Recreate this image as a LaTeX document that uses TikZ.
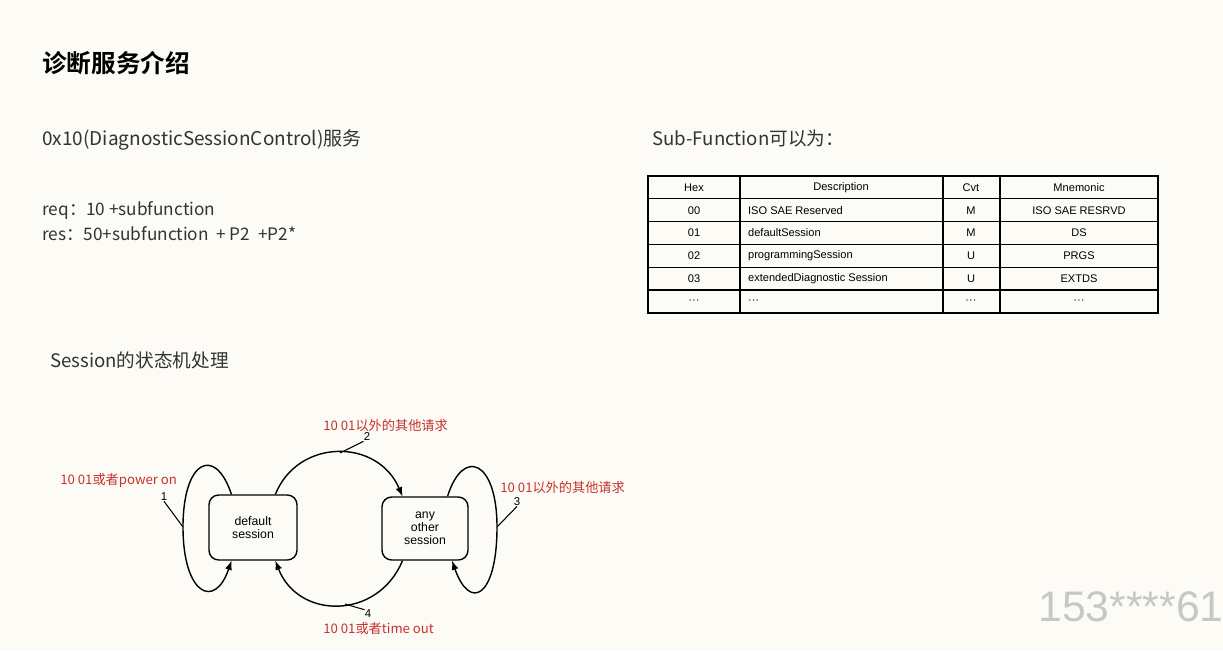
\documentclass[tikz,border=0pt]{standalone}
\usepackage{fontspec}
\setmainfont{Noto Sans CJK SC}[BoldFont={Noto Sans CJK SC Bold}]
\newfontfamily\arial{Liberation Sans}
\definecolor{paper}{HTML}{FCFBF6}
\definecolor{ink}{HTML}{333333}
\definecolor{condred}{HTML}{C8322D}
\tikzset{
  title/.style={anchor=west, inner sep=0pt, text=black, font=\bfseries\fontsize{14}{16}\selectfont},
  body/.style={anchor=west, inner sep=0pt, text=ink, font=\fontsize{9.8}{11}\selectfont},
  cell/.style={inner sep=1pt, text=black, font=\arial\fontsize{6.3}{7}\selectfont},
  state/.style={draw, line width=0.8pt, rounded corners=5.5pt, minimum width=1.76cm, minimum height=1.3cm, inner sep=0pt, align=center, font=\arial\fontsize{7}{7.5}\selectfont},
  cond/.style={anchor=west, inner sep=0pt, text=condred, font=\fontsize{7.5}{8}\selectfont},
  num/.style={inner sep=0pt, font=\arial\fontsize{6.5}{7}\selectfont},
  trans/.style={line width=0.8pt, -latex},
  lead/.style={line width=0.6pt}
}
\begin{document}
\begin{tikzpicture}[x=0.02cm, y=-0.02cm]
\fill[paper] (0,0) rectangle (1223,650); % background
\useasboundingbox (0,0) rectangle (1223,650);
% texts
\node[title] (ttl) at (42,63) {诊断服务介绍};
\node[body, font=\fontsize{10.8}{12}\selectfont] (svc) at (42,140) {0x10(DiagnosticSessionControl)服务};
\node[body] (req) at (42,210) {req：10 +subfunction};
\node[body] (res) at (42,234) {res：50+subfunction\ \ + P2\ \ +P2*};
\node[body, font=\fontsize{10.6}{12}\selectfont] (fsm) at (50,360) {Session的状态机处理};
\node[body, font=\fontsize{10.6}{12}\selectfont] (sub) at (652,138) {Sub-Function可以为：};
% table
\draw[line width=1.1pt] (648,176) rectangle (1158,313); % frame
\foreach \y in {198.8,221.6,244.4,267.2,290} \draw[line width=0.6pt] (648,\y) -- (1158,\y); % rows
\foreach \x in {740,943,1000} \draw[line width=0.6pt] (\x,176) -- (\x,313); % columns
\node[cell] (hhex) at (694,187.4) {Hex};
\node[cell] (hdsc) at (841,187.4) {Description};
\node[cell] (hcvt) at (971,187.4) {Cvt};
\node[cell] (hmn) at (1079,187.4) {Mnemonic};
\foreach \hx/\dsc/\cv/\mn [count=\i] in {00/ISO SAE Reserved/M/ISO SAE RESRVD, 01/defaultSession/M/DS, 02/programmingSession/U/PRGS, 03/extendedDiagnostic Session/U/EXTDS, ···/···/···/···}{
  \node[cell] (hex\i) at (694,{187.4+22.8*\i}) {\hx};
  \node[cell, anchor=west] (dsc\i) at (746,{187.4+22.8*\i}) {\dsc};
  \node[cell] (cvt\i) at (971,{187.4+22.8*\i}) {\cv};
  \node[cell] (mn\i) at (1079,{187.4+22.8*\i}) {\mn};
}
% state machine
\node[state] (ds) at (253,527.5) {default\\session};
\node[state, minimum width=1.72cm, minimum height=1.26cm] (os) at (425,528.5) {any\\other\\session};
\draw[trans] (ds.123) .. controls (215,445) and (183,460) .. (183,527) coordinate (p1) .. controls (183,595) and (215,610) .. (ds.-123); % loop 1
\draw[trans] (ds.56) .. controls (298,438) and (378,438) .. (os.125); % 2
\draw[trans] (os.55) .. controls (463,447) and (497,460) .. (497,527) coordinate (p3) .. controls (497,597) and (470,612) .. (os.-50); % loop 3
\draw[trans] (os.-125) .. controls (378,620) and (298,620) .. (ds.-56); % 4
\coordinate (p2) at (340,453);
\coordinate (p4) at (345,604);
\node[num] (n1) at (164,497) {1};
\node[num] (n2) at (367,437) {2};
\node[num] (n3) at (517,502) {3};
\node[num] (n4) at (368,614) {4};
\draw[lead] (n1.south) -- (p1);
\draw[lead] (n2.south west) -- (p2);
\draw[lead] (n3.south) -- (p3);
\draw[lead] (n4.north west) -- (p4);
\node[cond] (c1) at (60,480) {10 01或者power on};
\node[cond] (c2) at (323,425) {10 01以外的其他请求};
\node[cond] (c3) at (500,487) {10 01以外的其他请求};
\node[cond] (c4) at (323,628) {10 01或者time out};
% watermark
\node[anchor=west, inner sep=0pt, text=black!22, font=\arial\fontsize{24.3}{25}\selectfont] (mark) at (1038,607) {153****61};
\end{tikzpicture}
\end{document}
